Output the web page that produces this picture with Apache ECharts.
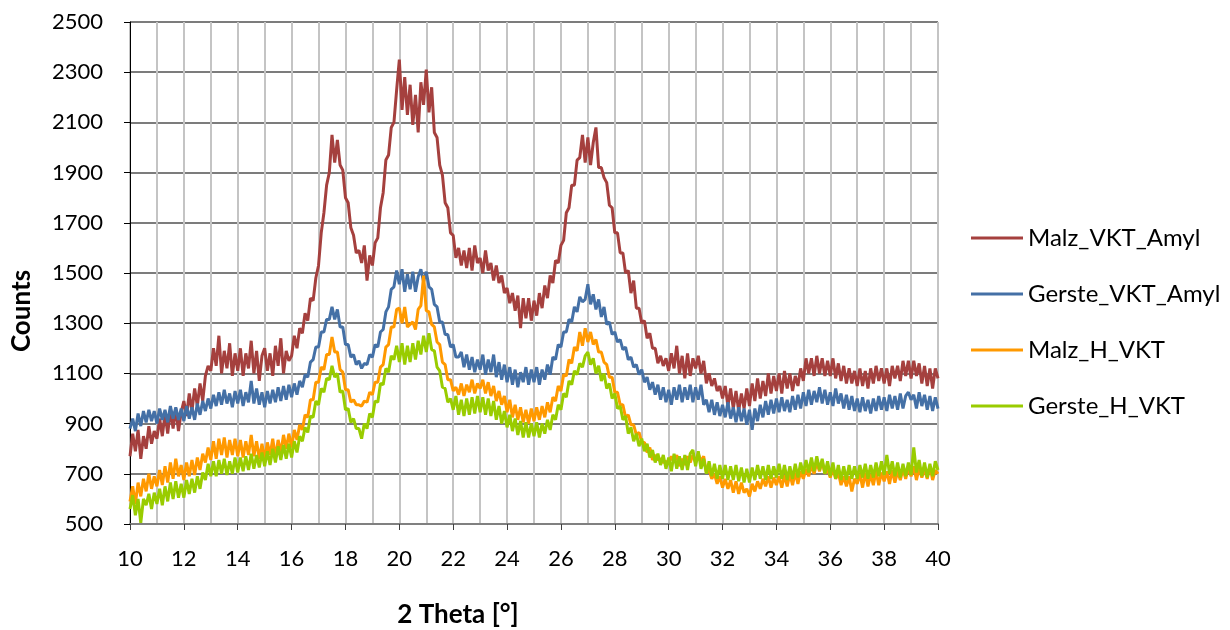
<!DOCTYPE html>
<html>
<head>
<meta charset="utf-8">
<title>XRD</title>
<script src="https://cdn.jsdelivr.net/npm/echarts@6/dist/echarts.min.js"></script>
<style>
  html, body { margin: 0; padding: 0; background: #ffffff; }
  #chart { width: 1230px; height: 630px; }
</style>
</head>
<body>
<div id="chart"></div>
<script>
// 2-theta scan: 10.0 .. 40.0 degrees, one reading every 0.1 degree
const thetaStart = 10;
const thetaStep = 0.1;

const seriesNames = ['Malz_VKT_Amyl', 'Gerste_VKT_Amyl', 'Malz_H_VKT', 'Gerste_H_VKT'];
const seriesColors = ['#A5403E', '#4470A6', '#FF9900', '#99CC00'];

const xTicks = [10, 12, 14, 16, 18, 20, 22, 24, 26, 28, 30, 32, 34, 36, 38, 40];
const yTicks = [500, 700, 900, 1100, 1300, 1500, 1700, 1900, 2100, 2300, 2500];

// counts, one row per degree (x.0 .. x.9), last value at 40.0
const malzVktAmyl = [
  770, 860, 790, 875, 760, 850, 800, 890, 820, 870,
  840, 920, 850, 940, 860, 955, 880, 960, 870, 945,
  990, 930, 1020, 950, 1040, 970, 1060, 990, 1090, 1130,
  1110, 1200, 1130, 1250, 1100, 1190, 1120, 1220, 1090, 1180,
  1110, 1200, 1090, 1180, 1120, 1230, 1100, 1190, 1070, 1170,
  1200, 1110, 1180, 1090, 1210, 1130, 1240, 1100, 1190, 1150,
  1170, 1250, 1200, 1280, 1260, 1340, 1310, 1400, 1390, 1480,
  1530, 1660, 1740, 1850, 1900, 2050, 1940, 2030, 1930, 1910,
  1800, 1780, 1680, 1650, 1580, 1590, 1540, 1610, 1470, 1570,
  1530, 1620, 1640, 1760, 1820, 1950, 1970, 2080, 2100, 2230,
  2350, 2150, 2280, 2130, 2250, 2090, 2210, 2060, 2260, 2170,
  2310, 2140, 2240, 2060, 2040, 1930, 1890, 1780, 1760, 1660,
  1650, 1560, 1600, 1530, 1590, 1520, 1600, 1510, 1610, 1540,
  1560, 1500, 1590, 1510, 1540, 1470, 1530, 1460, 1490, 1420,
  1440, 1380, 1420, 1350, 1410, 1280, 1400, 1320, 1400, 1310,
  1390, 1330, 1420, 1360, 1450, 1400, 1490, 1460, 1550, 1540,
  1610, 1630, 1740, 1760, 1850, 1850, 1950, 1960, 2050, 1940,
  2040, 1930, 2020, 2080, 1920, 1920, 1880, 1860, 1770, 1760,
  1660, 1660, 1580, 1580, 1500, 1510, 1420, 1470, 1360, 1360,
  1300, 1310, 1240, 1260, 1200, 1200, 1140, 1170, 1130, 1160,
  1110, 1180, 1120, 1210, 1100, 1170, 1080, 1180, 1090, 1160,
  1120, 1170, 1100, 1150, 1060, 1100, 1050, 1080, 1030, 1050,
  1000, 1050, 970, 1040, 960, 1030, 950, 1020, 960, 1040,
  970, 1060, 990, 1080, 1000, 1070, 1010, 1100, 1020, 1090,
  1030, 1100, 1020, 1110, 1040, 1100, 1030, 1090, 1050, 1120,
  1070, 1160, 1100, 1160, 1090, 1170, 1100, 1160, 1090, 1150,
  1090, 1160, 1080, 1140, 1070, 1130, 1060, 1120, 1060, 1110,
  1050, 1120, 1050, 1110, 1040, 1120, 1060, 1130, 1070, 1120,
  1060, 1120, 1050, 1130, 1080, 1130, 1070, 1150, 1090, 1150,
  1080, 1150, 1090, 1140, 1060, 1130, 1050, 1120, 1040, 1120,
  1080
];

const gersteVktAmyl = [
  880, 920, 870, 940, 890, 950, 905, 955, 910, 950,
  900, 960, 915, 955, 905, 970, 920, 965, 915, 960,
  910, 970, 920, 965, 915, 980, 935, 990, 950, 1000,
  960, 1015, 970, 1025, 975, 1035, 980, 1020, 965, 1030,
  980, 1035, 970, 1025, 985, 1070, 980, 1040, 975, 1025,
  965, 1030, 980, 1035, 985, 1045, 990, 1050, 995, 1055,
  1005, 1060, 1015, 1070, 1045, 1095, 1085, 1145, 1155, 1205,
  1205, 1265, 1265, 1315, 1315, 1365, 1315, 1355, 1285, 1285,
  1215, 1215, 1165, 1175, 1135, 1150, 1120, 1140, 1135, 1175,
  1165, 1215, 1205, 1265, 1275, 1345, 1365, 1435, 1445, 1510,
  1455, 1515, 1425, 1495, 1435, 1505, 1425, 1485, 1515, 1465,
  1505, 1445, 1435, 1375, 1365, 1305, 1305, 1255, 1255, 1205,
  1215, 1165, 1165, 1185, 1125, 1175, 1115, 1165, 1105, 1155,
  1115, 1175, 1095, 1155, 1105, 1175, 1085, 1145, 1075, 1135,
  1065, 1125, 1055, 1115, 1045, 1105, 1065, 1125, 1055, 1115,
  1065, 1125, 1055, 1115, 1075, 1135, 1095, 1165, 1155, 1215,
  1205, 1265, 1265, 1315, 1305, 1365, 1345, 1405, 1385, 1395,
  1455, 1375, 1415, 1355, 1395, 1325, 1365, 1295, 1305, 1255,
  1265, 1225, 1235, 1195, 1205, 1155, 1165, 1125, 1135, 1095,
  1115, 1065, 1085, 1035, 1065, 1015, 1055, 995, 1045, 985,
  1035, 975, 1045, 995, 1055, 985, 1045, 995, 1055, 985,
  1045, 995, 1055, 975, 995, 945, 995, 935, 985, 930,
  975, 925, 985, 920, 965, 905, 965, 910, 960, 895,
  955, 875, 960, 910, 975, 925, 990, 935, 995, 940,
  1000, 945, 1005, 950, 995, 945, 1010, 955, 1015, 960,
  1025, 970, 1035, 975, 1030, 985, 1045, 980, 1035, 975,
  1025, 970, 1040, 980, 1020, 960, 1015, 955, 1010, 950,
  1000, 945, 1005, 950, 995, 940, 1000, 950, 1010, 955,
  1005, 950, 1015, 960, 1010, 955, 1020, 960, 1010, 1025,
  995, 1015, 960, 1025, 970, 1015, 955, 1010, 950, 1005,
  960
];

const malzHVkt = [
  590, 650, 580, 665, 610, 680, 630, 700, 640, 690,
  650, 715, 655, 730, 665, 745, 680, 760, 690, 735,
  675, 745, 690, 755, 695, 765, 715, 780, 745, 805,
  755, 830, 760, 840, 775, 845, 765, 835, 775, 840,
  770, 835, 765, 830, 775, 855, 770, 830, 760, 820,
  755, 825, 775, 840, 765, 835, 785, 855, 800, 860,
  805, 875, 835, 895, 875, 935, 925, 995, 995, 1065,
  1065, 1125, 1115, 1175, 1175, 1245, 1185, 1185, 1115, 1105,
  1035, 1035, 985, 995, 975, 975, 970, 990, 985, 1025,
  1015, 1065, 1065, 1125, 1135, 1205, 1215, 1285, 1285, 1355,
  1360, 1300, 1365, 1285, 1295, 1305, 1275, 1355, 1370, 1490,
  1350, 1345, 1295, 1285, 1225, 1215, 1145, 1135, 1075, 1075,
  1030, 1045, 1015, 1060, 1010, 1055, 1025, 1075, 1020, 1060,
  1040, 1075, 1020, 1065, 1010, 1050, 990, 1030, 975, 1010,
  945, 995, 925, 975, 915, 965, 905, 955, 900, 960,
  910, 965, 915, 970, 925, 985, 945, 1005, 990, 1050,
  1030, 1095, 1090, 1155, 1140, 1205, 1190, 1265, 1210, 1280,
  1225, 1265, 1215, 1235, 1185, 1185, 1145, 1135, 1085, 1085,
  1025, 1025, 975, 975, 925, 935, 895, 895, 855, 865,
  825, 825, 785, 805, 755, 775, 755, 760, 745, 750,
  740, 770, 745, 775, 730, 760, 735, 770, 745, 775,
  745, 780, 750, 770, 705, 715, 680, 700, 660, 690,
  645, 680, 640, 675, 625, 670, 620, 665, 625, 640,
  610, 660, 630, 670, 640, 680, 650, 690, 645, 685,
  655, 690, 645, 695, 650, 700, 655, 705, 660, 710,
  680, 720, 690, 735, 700, 745, 710, 750, 700, 720,
  685, 720, 680, 705, 655, 690, 650, 690, 630, 680,
  660, 700, 645, 705, 650, 700, 655, 710, 655, 705,
  670, 710, 660, 715, 665, 710, 675, 720, 680, 725,
  690, 730, 675, 725, 685, 720, 680, 730, 675, 715,
  700
];

const gersteHVkt = [
  560, 615, 535, 600, 505, 600, 575, 620, 560, 625,
  580, 640, 575, 650, 590, 665, 600, 670, 605, 660,
  605, 675, 620, 680, 625, 690, 640, 705, 675, 740,
  690, 750, 690, 755, 700, 760, 695, 750, 700, 765,
  705, 765, 710, 770, 715, 780, 720, 775, 725, 785,
  730, 790, 735, 800, 745, 810, 755, 815, 760, 820,
  765, 830, 785, 850, 830, 885, 865, 930, 925, 990,
  975, 1040, 1025, 1080, 1075, 1130, 1085, 1100, 1025, 1030,
  955, 960, 905, 920, 880, 880, 840, 900, 880, 940,
  925, 990, 985, 1060, 1055, 1120, 1105, 1170, 1155, 1210,
  1145, 1220, 1135, 1210, 1145, 1220, 1155, 1230, 1175, 1250,
  1185, 1260, 1195, 1190, 1125, 1110, 1045, 1040, 985, 1000,
  955, 1010, 935, 995, 930, 1000, 935, 1005, 940, 1010,
  945, 1005, 935, 1000, 930, 990, 915, 970, 900, 950,
  885, 935, 870, 920, 855, 910, 845, 905, 845, 900,
  850, 905, 845, 900, 860, 915, 875, 935, 915, 975,
  955, 1020, 1005, 1070, 1055, 1110, 1095, 1140, 1125, 1170,
  1185, 1135, 1160, 1100, 1130, 1070, 1100, 1040, 1060, 1000,
  1020, 960, 970, 915, 930, 860, 885, 830, 860, 810,
  840, 790, 820, 765, 795, 745, 780, 735, 775, 720,
  765, 710, 780, 720, 770, 715, 775, 715, 780, 795,
  730, 790, 720, 760, 700, 750, 690, 740, 680, 735,
  680, 735, 675, 730, 675, 735, 670, 725, 665, 720,
  665, 725, 675, 735, 680, 730, 675, 735, 680, 730,
  685, 740, 680, 735, 675, 730, 680, 740, 685, 745,
  700, 755, 705, 765, 710, 770, 715, 760, 700, 750,
  690, 745, 680, 735, 675, 730, 675, 735, 680, 730,
  680, 735, 685, 740, 680, 735, 685, 745, 690, 750,
  695, 775, 700, 750, 690, 745, 685, 740, 690, 745,
  695, 805, 705, 755, 690, 745, 685, 740, 690, 750,
  715
];

const seriesValues = [malzVktAmyl, gersteVktAmyl, malzHVkt, gersteHVkt];

// angle for each reading
const theta = malzVktAmyl.map((_, i) => +(thetaStart + i * thetaStep).toFixed(1));

const font = 'Lato, "Open Sans", "Liberation Sans", sans-serif';

const chart = echarts.init(document.getElementById('chart'), null, { renderer: 'canvas' });

chart.setOption({
  animation: false,
  backgroundColor: '#ffffff',
  color: seriesColors,
  grid: { left: 130, right: 292, top: 22, bottom: 106, containLabel: false },
  legend: {
    orient: 'vertical',
    left: 966,
    top: 219,
    icon: 'rect',
    itemWidth: 52,
    itemHeight: 3,
    itemGap: 28,
    textStyle: { fontFamily: font, fontSize: 24, color: '#000000', lineHeight: 28 },
    data: seriesNames
  },
  xAxis: {
    type: 'value',
    min: xTicks[0],
    max: xTicks[xTicks.length - 1],
    interval: 2,
    axisLine: { show: true, onZero: false, lineStyle: { color: '#808080', width: 2 } },
    axisTick: { show: true, length: 6, lineStyle: { color: '#404040', width: 1 } },
    axisLabel: { margin: 24, fontFamily: font, fontSize: 22, color: '#000000' },
    splitLine: { show: true, lineStyle: { color: '#c4c4c4', width: 2 } },
    minorTick: { show: false, splitNumber: 2 },
    minorSplitLine: { show: true, lineStyle: { color: '#c4c4c4', width: 2 } }
  },
  yAxis: {
    type: 'value',
    min: yTicks[0],
    max: yTicks[yTicks.length - 1],
    interval: 200,
    axisLine: { show: true, lineStyle: { color: '#000000', width: 1 } },
    axisTick: { show: true, length: 6, lineStyle: { color: '#000000', width: 1 } },
    axisLabel: { margin: 27, fontFamily: font, fontSize: 22, color: '#000000', formatter: v => String(v) },
    splitLine: { show: true, lineStyle: { color: '#505050', width: 1.5 } }
  },
  graphic: [
    {
      type: 'text',
      x: 22, y: 311, rotation: Math.PI / 2,
      style: { text: 'Counts', fontFamily: font, fontSize: 26, fontWeight: 'bold', fill: '#000000', align: 'center', verticalAlign: 'middle' }
    },
    {
      type: 'text',
      x: 458, y: 615,
      style: { text: '2 Theta [°]', fontFamily: font, fontSize: 26, fontWeight: 'bold', fill: '#000000', align: 'center', verticalAlign: 'middle' }
    }
  ],
  series: seriesNames.map((name, k) => ({
    name: name,
    type: 'line',
    symbol: 'none',
    showSymbol: false,
    smooth: false,
    z: 2 + k,
    lineStyle: { width: 3, color: seriesColors[k] },
    itemStyle: { color: seriesColors[k] },
    data: seriesValues[k].map((v, i) => [theta[i], v])
  }))
});
</script>
</body>
</html>
